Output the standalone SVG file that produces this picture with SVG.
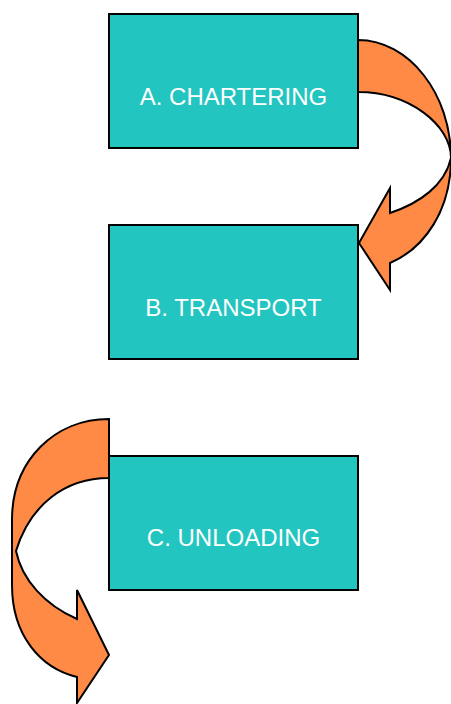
<svg xmlns="http://www.w3.org/2000/svg" width="451" height="704" viewBox="0 0 451 704">
<style>
.box{fill:#22C5C0;stroke:#000;stroke-width:2}
.lbl{fill:#fff;font-family:"Liberation Sans",Arial,sans-serif;font-size:24px;text-anchor:middle}
.arr{fill:#FF8A45;stroke:#000;stroke-width:2;stroke-linejoin:miter}
</style>
<rect width="451" height="704" fill="#fff"/>
<g id="connectors">
<path class="arr" d="M358,40 C409,40 451,94 451,158 C451,210 425,248 390,263 L390,290 L359,243 L390,188 L390,213 C420,203 445,185 451,158 C451,125 409,92 358,92 Z"/>
<path class="arr" d="M109,419 C55,419 12,460 12,520 L12,585 C12,635 40,668 77,677 L77,703 L109,655 L77,590 L77,619 C45,605 22,580 16,551 C30,505 65,478 109,478 Z"/>
</g>
<g id="nodeA">
<rect class="box" x="109" y="14" width="249" height="134"/>
<text class="lbl" x="233.5" y="105">A. CHARTERING</text>
</g>
<g id="nodeB">
<rect class="box" x="109" y="225" width="249" height="134"/>
<text class="lbl" x="233.5" y="316">B. TRANSPORT</text>
</g>
<g id="nodeC">
<rect class="box" x="109" y="456" width="249" height="134"/>
<text class="lbl" x="233.5" y="546">C. UNLOADING</text>
</g>
</svg>
